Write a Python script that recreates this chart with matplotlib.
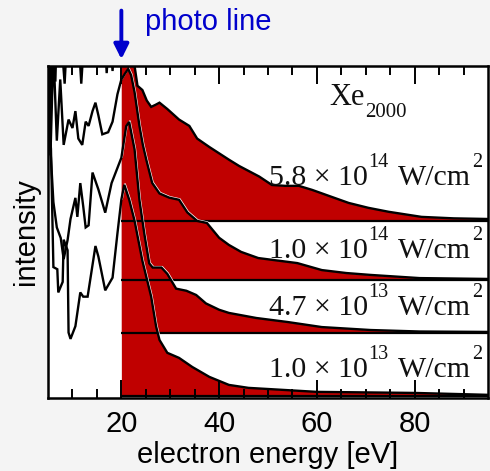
import numpy as np
import matplotlib
matplotlib.use("Agg")
import matplotlib.pyplot as plt
import matplotlib.transforms as mtransforms

plt.rcParams['font.family'] = ['Liberation Sans', 'DejaVu Sans']

RED = '#c00000'
BLUE = '#0000cc'
BG = '#f4f4f4'
INK = '#111111'

# electron spectra (normalised to peak height), stacked from top to bottom
energy_1 = [5.0, 5.5, 6.0, 6.5, 7.0, 7.6, 8.4, 9.2, 10.0, 11.0, 11.8, 12.6, 13.5, 14.5, 15.5,
            16.4, 17.0, 17.6, 18.2, 18.9, 19.5, 20.0, 20.5, 21.0, 21.6, 22.1, 22.6, 23.3, 24.3,
            25.2, 26.1, 27.0, 27.8, 29.4, 31.8, 33.9, 35.5, 38.0, 42.0, 44.1, 48.2, 50.8, 53.5,
            56.3, 59.0, 62.5, 66.5, 70.5, 74.7, 81.4, 88.0, 95.0]
signal_1 = [1.14, 0.55, 1.18, 0.66, 1.09, 0.90, 0.65, 1.02, 0.92, 0.97, 0.65, 0.95, 1.07, 0.92, 1.09,
            0.95, 0.70, 0.92, 0.71, 0.97, 0.88, 0.85, 0.92, 0.97, 1.00, 0.92, 0.75, 0.64, 0.62,
            0.57, 0.54, 0.55, 0.56, 0.53, 0.48, 0.45, 0.39, 0.35, 0.29, 0.26, 0.21, 0.17, 0.166,
            0.166, 0.147, 0.118, 0.085, 0.062, 0.043, 0.019, 0.012, 0.009]

energy_2 = [5.0, 5.5, 6.1, 6.8, 7.5, 8.2, 9.2, 10.0, 10.6, 11.2, 12.0, 12.7, 13.3, 14.1, 14.7,
            15.3, 16.1, 17.3, 18.2, 19.2, 20.0, 20.8, 21.4, 22.0, 22.7, 23.7, 24.4, 25.1, 26.3,
            27.8, 29.8, 31.8, 33.5, 35.5, 37.5, 40.0, 42.0, 44.5, 48.0, 51.0, 56.0, 61.0, 66.0,
            71.0, 81.0, 95.0]
signal_2 = [1.23, 0.59, 1.09, 0.66, 0.95, 0.64, 0.76, 0.72, 0.80, 0.67, 0.64, 0.75, 0.73, 0.80, 0.84,
            0.78, 0.69, 0.70, 0.75, 0.88, 0.95, 0.98, 1.00, 0.97, 0.89, 0.73, 0.64, 0.57, 0.46,
            0.41, 0.39, 0.38, 0.32, 0.28, 0.27, 0.20, 0.166, 0.133, 0.104, 0.095, 0.08, 0.047, 0.033,
            0.024, 0.009, 0.005]

energy_3 = [5.0, 5.5, 6.1, 6.8, 7.6, 8.2, 9.0, 9.6, 10.2, 10.6, 11.0, 11.6, 12.2, 12.7, 13.3,
            14.1, 15.3, 16.7, 18.0, 19.0, 20.0, 21.0, 21.6, 22.7, 23.7, 24.7, 25.7, 26.4, 27.1,
            28.2, 29.4, 31.2, 33.3, 35.3, 37.3, 40.0, 42.0, 47.6, 54.0, 61.0, 71.0, 81.0, 95.0]
signal_3 = [1.33, 0.87, 0.62, 0.50, 0.45, 0.35, 0.44, 0.54, 0.60, 0.64, 0.55, 0.71, 0.60, 0.50, 0.51,
            0.76, 0.68, 0.57, 0.71, 0.77, 0.83, 0.98, 1.00, 0.87, 0.63, 0.47, 0.33, 0.31, 0.31,
            0.31, 0.28, 0.21, 0.20, 0.18, 0.14, 0.11, 0.095, 0.071, 0.052, 0.028, 0.014, 0.007, 0.005]

energy_4 = [5.0, 5.6, 6.1, 6.9, 7.1, 8.0, 8.2, 9.0, 9.2, 9.6, 10.6, 11.6, 12.2, 13.1, 14.7,
            15.3, 16.7, 18.2, 19.2, 20.0, 20.6, 21.6, 22.7, 24.3, 26.1, 27.1, 27.8, 29.4, 31.8,
            34.5, 38.0, 42.0, 46.0, 60.0, 80.0, 95.0]
signal_4 = [1.37, 1.17, 0.61, 0.60, 0.49, 0.54, 0.74, 0.69, 0.30, 0.27, 0.33, 0.49, 0.47, 0.47, 0.71,
            0.66, 0.50, 0.56, 0.77, 0.93, 1.00, 0.93, 0.83, 0.64, 0.47, 0.33, 0.265, 0.204, 0.18,
            0.137, 0.09, 0.052, 0.038, 0.019, 0.014, 0.005]

offsets = [0.839, 0.559, 0.308, 0.01]
mantissas = ['5.8', '1.0', '4.7', '1.0']
exponents = ['14', '14', '13', '13']
label_y = [0.17, 0.105, 0.085, 0.09]
photo_line = 20.0

spectra = [(energy_1, signal_1), (energy_2, signal_2), (energy_3, signal_3), (energy_4, signal_4)]

fig = plt.figure(figsize=(4.9, 4.71), dpi=100, facecolor=BG)
ax = fig.add_axes([0.098, 0.155, 0.898, 0.705])
ax.set_facecolor('white')
renderer = fig.canvas.get_renderer()


def rich_text(x, y, pieces, align='right'):
    # pieces: (text, fontsize, raise in points, gap before in points)
    objs = [ax.text(x, y, s, fontsize=size, family='Liberation Serif', color=INK,
                    va='baseline', ha='left') for s, size, dy, gap in pieces]
    widths = [t.get_window_extent(renderer).width * 72 / fig.dpi for t in objs]
    total = sum(widths) + sum(p[3] for p in pieces)
    cur = -total if align == 'right' else -total / 2
    for t, w, (s, size, dy, gap) in zip(objs, widths, pieces):
        cur += gap
        t.set_transform(mtransforms.offset_copy(ax.transData, fig=fig, x=cur, y=dy, units='points'))
        cur += w


shifted = mtransforms.offset_copy(ax.transData, fig=fig, x=0.55, y=0.55, units='points')

for (e, s), off, mant, expo, ly in zip(spectra, offsets, mantissas, exponents, label_y):
    e = np.array(e)
    s = np.array(s) + off
    m = e >= photo_line
    edge = m & (e <= 50)
    ax.fill_between(e[m], off, s[m], color=RED, lw=0)
    ax.plot([photo_line, 95], [off, off], color='black', lw=1.6, solid_capstyle='butt')
    ax.plot(e[edge], s[edge], color='white', lw=1.2, transform=shifted)
    ax.plot(e, s, color='black', lw=1.7, solid_joinstyle='miter')
    rich_text(93.8, off + ly, [(mant + ' \u00d7 10', 21.5, 0, 0), (expo, 14.5, 13, 0.5),
                               ('W/cm', 21.5, 0, 7), ('2', 14.5, 13, 0.5)])

rich_text(78.4, 1.389, [('Xe', 22, 0, 0), ('2000', 15, -8.5, 0.5)])

ax.set_xlim(5, 95)
ax.set_ylim(0, 1.573)
ax.set_yticks([])
ax.set_xticks([20, 40, 60, 80])
ax.set_xticks(np.arange(10, 95, 5), minor=True)
ax.tick_params(axis='x', which='both', direction='in', top=True, width=1.4, labelsize=21, pad=9)
ax.tick_params(axis='x', which='major', length=13)
ax.tick_params(axis='x', which='minor', length=6.5)
for sp in ax.spines.values():
    sp.set_linewidth(1.8)

ax.set_xlabel('electron energy [eV]', fontsize=21, labelpad=2)
ax.set_ylabel('intensity', fontsize=21, labelpad=6)

ax.annotate('', xy=(photo_line, 1.012), xycoords=('data', 'axes fraction'),
            xytext=(photo_line, 1.175), textcoords=('data', 'axes fraction'),
            arrowprops=dict(arrowstyle='-|>', color=BLUE, lw=2.8, mutation_scale=22),
            annotation_clip=False)
fig.text(145 / 490, 1 - 30 / 471, 'photo line', color=BLUE, fontsize=21, va='baseline', ha='left')

fig.savefig('out.png', dpi=100, facecolor=BG)
